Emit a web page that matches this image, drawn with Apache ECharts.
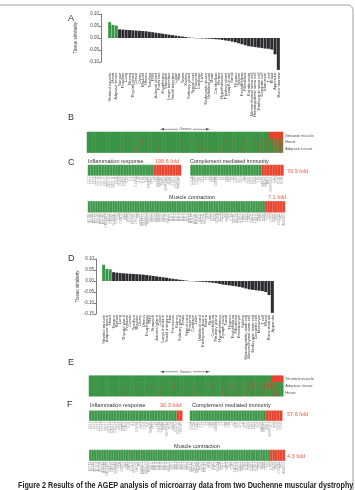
<!DOCTYPE html>
<html>
<head>
<meta charset="utf-8">
<script src="https://cdn.jsdelivr.net/npm/echarts@6/dist/echarts.min.js"></script>
<style>
html, body { margin: 0; padding: 0; background: #fff; }
#fig { width: 355px; height: 490px; }
</style>
</head>
<body>
<div id="fig"></div>
<script>
// tissue similarity, panel A
var tissuesA = ['Striated muscle', 'Heart', 'Adipose tissue', 'Tongue', 'Prostate', 'Lung', 'Breast', 'Thyroid gland',
  'Cervix', 'Ovary', 'Bladder', 'Uterus', 'Trachea', 'PNS', 'Adrenal gland', 'Pancreas', 'Esophagus', 'Stomach',
  'Large intestine', 'Small intestine', 'Colon', 'Skin', 'Testis', 'Kidney', 'Salivary gland', 'Spinal cord',
  'Placenta', 'Cartilage', 'Liver', 'Embryonic tissue', 'Umbilical cord', 'Brain', 'Cerebellum', 'Retina',
  'Hypothalamus', 'Pituitary gland', 'Lymph node', 'Tonsil', 'Thymus', 'Spleen', 'Endothelium', 'Fibroblast',
  'Keratinocyte', 'Mesenchymal stem cell', 'Hematopoietic stem cell', 'Embryonic stem cell', 'Dendritic cell',
  'Monocyte', 'T cell', 'Blood', 'Appendix', 'Bone marrow']
var similarityA = [0.066, 0.055, 0.052,
  0.036, 0.035, 0.034, 0.033, 0.032, 0.031, 0.030, 0.029, 0.028, 0.026,
  0.024, 0.022, 0.020, 0.018, 0.016, 0.014, 0.012, 0.010, 0.008, 0.006,
  0.004, 0.002, 0.001,
  -0.001, -0.001, -0.002, -0.002, -0.003, -0.004, -0.005, -0.006, -0.008, -0.010,
  -0.012, -0.015, -0.018, -0.022, -0.026, -0.030, -0.034, -0.036, -0.038, -0.040,
  -0.042, -0.044, -0.045, -0.048, -0.068, -0.133]

// tissue similarity, panel D
var tissuesD = ['Striated muscle', 'Adipose tissue', 'Heart', 'Tongue', 'Breast', 'Lung', 'Thyroid gland', 'Prostate',
  'Cervix', 'Trachea', 'Bladder', 'Ovary', 'Uterus', 'Esophagus', 'PNS', 'Stomach', 'Adrenal gland', 'Colon',
  'Large intestine', 'Small intestine', 'Skin', 'Pancreas', 'Kidney', 'Salivary gland', 'Testis', 'Spinal cord',
  'Placenta', 'Cartilage', 'Liver', 'Umbilical cord', 'Embryonic tissue', 'Retina', 'Brain', 'Cerebellum',
  'Pituitary gland', 'Hypothalamus', 'Lymph node', 'Tonsil', 'Thymus', 'Endothelium', 'Fibroblast', 'Keratinocyte',
  'Spleen', 'Hematopoietic stem cell', 'Mesenchymal stem cell', 'Embryonic stem cell', 'Dendritic cell',
  'Monocyte', 'T cell', 'Blood', 'Bone marrow', 'Appendix']
var similarityD = [0.074, 0.055, 0.053,
  0.040, 0.038, 0.036, 0.035, 0.034, 0.033, 0.032, 0.031, 0.030, 0.029,
  0.027, 0.025, 0.023, 0.021, 0.019, 0.017, 0.015, 0.012, 0.010, 0.008,
  0.006, 0.004, 0.002,
  -0.001, -0.001, -0.002, -0.003, -0.004, -0.005, -0.006, -0.008, -0.010, -0.013,
  -0.016, -0.018, -0.020, -0.022, -0.024, -0.027, -0.030, -0.034, -0.038, -0.040,
  -0.042, -0.044, -0.046, -0.050, -0.064, -0.145]
var topTissues = 3

// gene heatmaps B and E, one digit (0-9) per gene
var rowsB = ['Striated muscle', 'Heart', 'Adipose tissue']
var heatB = [
  '0000000000 0000000000 0000000000 0000000000 0000000000 0000000000 0000099999',
  '0000000000 0000100002 0001000010 0002000100 1000010001 0010002001 1020213545',
  '0000000000 0010000200 0100020000 1000100001 0201001020 1010020010 0210201323'
]
var rowsE = ['Striated muscle', 'Adipose tissue', 'Heart']
var heatE = [
  '0000000000 0000000000 0000000000 0000000000 0000000000 0000000000 0000009999',
  '0000000000 0001000100 0010001000 2000100010 0010200101 0200101022 1022443100',
  '0000000000 0010001000 0100020001 0001000200 1000100020 0101002001 0102001400'
]

// GO categories
var inflamGenes = ['CCL2', 'CCL5', 'CCL8', 'CCL13', 'CCL18', 'CCL19', 'CXCL9', 'CXCL10', 'CXCL12', 'CXCL14',
  'CD14', 'CD163', 'C3AR1', 'C5AR1', 'IL1B', 'IL6', 'IL8', 'IL10RA', 'IL18', 'TLR2', 'TLR4', 'TNF', 'TNFAIP6',
  'SPP1', 'LYZ', 'S100A8', 'S100A9', 'TIMP1', 'SERPINA3', 'PTX3', 'ORM1', 'CHI3L1', 'FCER1G', 'TYROBP']
var complementGenes = ['C1QA', 'C1QB', 'C1QC', 'C1R', 'C1S', 'C2', 'C3', 'C4A', 'C4B', 'C4BPA', 'C5', 'C6', 'C7',
  'C8A', 'C8B', 'C9', 'CFB', 'CFD', 'CFH', 'CFI', 'CFP', 'CD46', 'CD55', 'CD59', 'CR1', 'CR2', 'MASP1', 'MASP2',
  'MBL2', 'SERPING1', 'CLU', 'VTN', 'FCN1', 'FCN3']
var muscleGenes = ['ACTA1', 'ACTA2', 'ACTC1', 'ACTN2', 'ACTN3', 'ATP2A1', 'ATP2A2', 'CACNA1S', 'CASQ1', 'CASQ2',
  'CHRNA1', 'CHRNG', 'CKM', 'CKMT2', 'DES', 'DMD', 'DMPK', 'KCNJ2', 'KLHL41', 'LMOD2',
  'MB', 'MYBPC1', 'MYBPC2', 'MYBPC3', 'MYBPH', 'MYH1', 'MYH2', 'MYH3', 'MYH4', 'MYH6',
  'MYH7', 'MYH8', 'MYH11', 'MYL1', 'MYL2', 'MYL3', 'MYL4', 'MYL5', 'MYL6', 'MYL9',
  'MYLK', 'MYLK2', 'MYLPF', 'MYOM1', 'MYOM2', 'MYOT', 'MYOZ1', 'MYOZ2', 'NEB', 'PLN',
  'RYR1', 'RYR2', 'SCN4A', 'SGCA', 'SGCD', 'SLN', 'SMPX', 'SRL', 'TCAP', 'TMOD1',
  'TMOD4', 'TNNC1', 'TNNC2', 'TNNI1', 'TNNI2', 'TNNI3', 'TNNT1', 'TNNT2', 'TNNT3', 'TPM1',
  'TPM2', 'TPM3', 'TRDN', 'TTN', 'UTRN', 'XIRP1', 'CAV3', 'COX6A2', 'HRC', 'ANKRD2']

var inflamC = '0000000000 0000000000 0000999999 9999'
var complementC = '0000000000 0000000000 0000009999 9999'
var muscleC = '0000000000 0000000000 0000000000 0000000000 0000000000 0000000000 0000000000 0099999999'
var inflamF = '0000000000 0000000000 0000000000 0099'
var complementF = '0000000000 0000000000 0000000099 9999'
var muscleF = '0000000000 0000000000 0000000000 0000000000 0000000000 0000000000 0000000000 0000979999'

var foldC = ['198.6 fold', '70.9 fold', '7.1 fold']
var foldF = ['30.3 fold', '57.6 fold', '4.3 fold']

var FONT = 'Liberation Sans, Arial, sans-serif'
var GREEN = '#3b9547'
var DARK = '#2c2c31'
var FOLD_RED = '#ef5a42'

function cells(str) {
  return str.replace(/\s/g, '').split('').map(Number)
}

function heatData(rows) {
  var out = []
  rows.forEach(function (row, r) {
    cells(row).forEach(function (v, c) {
      out.push([c, r, v])
    })
  })
  return out
}

function columns(row) {
  return cells(row).map(function (v, i) { return String(i) })
}

var grids = [
  { left: 101, top: 14, width: 179, height: 48 },       // 0 A axis
  { left: 108, top: 14, width: 172, height: 57.6 },     // 1 A bars
  { left: 87, top: 132, width: 196, height: 20.6 },     // 2 B
  { left: 88, top: 165, width: 93, height: 10.5 },      // 3 C inflam
  { left: 190.5, top: 165, width: 93, height: 10.5 },   // 4 C complement
  { left: 88, top: 201.3, width: 197, height: 11 },     // 5 C muscle
  { left: 102, top: 259, width: 172, height: 55 },      // 6 D bars
  { left: 89, top: 375.7, width: 194.3, height: 20.5 }, // 7 E
  { left: 89.3, top: 410.7, width: 93, height: 10 },    // 8 F inflam
  { left: 190, top: 410.7, width: 92.3, height: 10 },   // 9 F complement
  { left: 89.3, top: 450, width: 195.7, height: 10.7 }  // 10 F muscle
].map(function (g) {
  g.containLabel = false
  g.outerBoundsMode = 'none'
  return g
})

function simYAxis(gridIndex, min, offset) {
  return {
    gridIndex: gridIndex, type: 'value', min: min, max: 0.1, interval: 0.05, offset: offset,
    name: 'Tissue similarity', nameLocation: 'middle', nameGap: 15,
    nameTextStyle: { fontSize: 4.5, color: '#444', fontFamily: FONT },
    axisLine: { show: true, lineStyle: { color: '#444', width: 0.7 } },
    axisTick: { show: true, length: 2, lineStyle: { color: '#444', width: 0.7 } },
    axisLabel: { fontSize: 4.5, color: '#444', margin: 2, fontFamily: FONT, formatter: function (v) { return v.toFixed(2) } },
    splitLine: { show: false }
  }
}

function tissueXAxis(gridIndex, names) {
  return {
    gridIndex: gridIndex, type: 'category', data: names,
    axisLine: { show: false, onZero: false }, axisTick: { show: false },
    axisLabel: { rotate: 90, interval: 0, fontSize: 4.2, color: '#444', margin: 1, fontFamily: FONT }
  }
}

function geneXAxis(gridIndex, genes) {
  return {
    gridIndex: gridIndex, type: 'category', data: genes,
    axisLine: { show: false }, axisTick: { show: false },
    axisLabel: { rotate: 90, interval: 0, fontSize: 3, color: '#999', margin: 1, fontFamily: FONT }
  }
}

function rowYAxis(gridIndex, rows) {
  return {
    gridIndex: gridIndex, type: 'category', data: rows, inverse: true, position: 'right',
    axisLine: { show: false }, axisTick: { show: false },
    axisLabel: { interval: 0, fontSize: 4.2, color: '#555', margin: 2, fontFamily: FONT }
  }
}

function hiddenY(gridIndex) {
  return { gridIndex: gridIndex, type: 'category', data: [''], show: false }
}

function barSeries(axisIndex, values) {
  return {
    type: 'bar', xAxisIndex: axisIndex, yAxisIndex: axisIndex, data: values,
    barCategoryGap: '10%', silent: true,
    itemStyle: {
      color: function (p) { return p.dataIndex < topTissues ? GREEN : DARK }
    }
  }
}

function heatSeries(axisIndex, rows, bordered) {
  return {
    type: 'heatmap', xAxisIndex: axisIndex, yAxisIndex: axisIndex, data: heatData(rows), silent: true,
    itemStyle: bordered ? { borderColor: 'rgba(255,255,255,0.4)', borderWidth: 0.5 } : {}
  }
}

function txt(x, y, text, size, color, align, extra) {
  var el = {
    type: 'text', x: x, y: y, silent: true,
    style: { text: text, fontSize: size, fill: color, fontFamily: FONT, align: align || 'left', verticalAlign: 'middle' }
  }
  if (extra) Object.assign(el.style, extra)
  return el
}

function genesArrow(y) {
  var c = '#555'
  return [
    { type: 'line', silent: true, shape: { x1: 162, y1: y, x2: 178, y2: y }, style: { stroke: c, lineWidth: 0.6 } },
    { type: 'polygon', silent: true, shape: { points: [[160, y], [164, y - 1.3], [164, y + 1.3]] }, style: { fill: c } },
    txt(185.5, y, 'Genes', 4, c, 'center'),
    { type: 'line', silent: true, shape: { x1: 193, y1: y, x2: 208, y2: y }, style: { stroke: c, lineWidth: 0.6 } },
    { type: 'polygon', silent: true, shape: { points: [[210, y], [206, y - 1.3], [206, y + 1.3]] }, style: { fill: c } }
  ]
}

var graphics = [
  { type: 'rect', silent: true, z: -1, shape: { x: -10, y: 5, width: 363, height: 520, r: 5 }, style: { fill: 'none', stroke: '#a0a0a0', lineWidth: 1 } },
  txt(68, 19, 'A', 9, '#333'),
  txt(68, 118, 'B', 9, '#333'),
  txt(68, 163, 'C', 9, '#333'),
  txt(68, 259, 'D', 9, '#333'),
  txt(68, 363, 'E', 9, '#333'),
  txt(67, 405, 'F', 9, '#333'),

  txt(88, 161, 'Inflammation response', 5.5, '#333'),
  txt(155, 161, foldC[0], 5.5, FOLD_RED),
  txt(190, 161, 'Complement mediated immunity', 5.5, '#333'),
  txt(287, 171, foldC[1], 5.5, FOLD_RED),
  txt(192, 197, 'Muscle contraction', 5.5, '#333', 'center'),
  txt(268, 197, foldC[2], 5.5, FOLD_RED),

  txt(90, 405, 'Inflammation response', 5.5, '#333'),
  txt(160, 405, foldF[0], 5.5, FOLD_RED),
  txt(192, 405, 'Complement mediated immunity', 5.5, '#333'),
  txt(287, 414.3, foldF[1], 5.5, FOLD_RED),
  txt(197, 446.7, 'Muscle contraction', 5.5, '#333', 'center'),
  txt(287, 456, foldF[2], 5.5, FOLD_RED),

  Object.assign(txt(18, 486, 'Figure 2 Results of the AGEP analysis of microarray data from two Duchenne muscular dystrophy', 9, '#222', 'left', { fontWeight: 'bold' }), { scaleX: 0.8 })
].concat(genesArrow(129.3), genesArrow(371.7))

var option = {
  animation: false,
  grid: grids,
  xAxis: [
    { gridIndex: 0, type: 'value', show: false },
    tissueXAxis(1, tissuesA),
    { gridIndex: 2, type: 'category', data: columns(heatB[0]), show: false },
    geneXAxis(3, inflamGenes),
    geneXAxis(4, complementGenes),
    geneXAxis(5, muscleGenes),
    tissueXAxis(6, tissuesD),
    { gridIndex: 7, type: 'category', data: columns(heatE[0]), show: false },
    geneXAxis(8, inflamGenes),
    geneXAxis(9, complementGenes),
    geneXAxis(10, muscleGenes)
  ],
  yAxis: [
    simYAxis(0, -0.1, 0),
    { gridIndex: 1, type: 'value', min: -0.14, max: 0.1, show: false },
    rowYAxis(2, rowsB),
    hiddenY(3),
    hiddenY(4),
    hiddenY(5),
    simYAxis(6, -0.15, 6),
    rowYAxis(7, rowsE),
    hiddenY(8),
    hiddenY(9),
    hiddenY(10)
  ],
  visualMap: {
    type: 'continuous', show: false, min: 0, max: 9,
    seriesIndex: [2, 3, 4, 5, 6, 7, 8, 9],
    inRange: { color: [GREEN, '#e8402a'] }
  },
  series: [
    barSeries(1, similarityA),
    barSeries(6, similarityD),
    heatSeries(2, heatB, false),
    heatSeries(3, [inflamC], true),
    heatSeries(4, [complementC], true),
    heatSeries(5, [muscleC], true),
    heatSeries(7, heatE, false),
    heatSeries(8, [inflamF], true),
    heatSeries(9, [complementF], true),
    heatSeries(10, [muscleF], true)
  ],
  graphic: graphics
}

var myChart = echarts.init(document.getElementById('fig'), null, { renderer: 'canvas' })
myChart.setOption(option)
</script>
</body>
</html>
